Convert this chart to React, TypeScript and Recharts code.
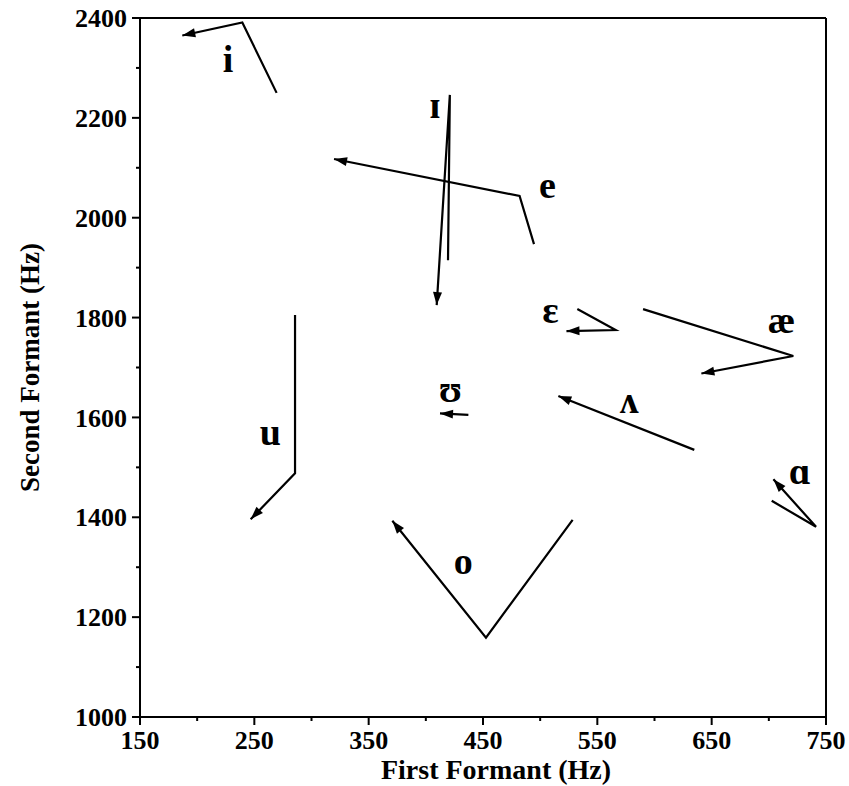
import React from 'react';
import { ScatterChart, Scatter, XAxis, YAxis, ReferenceLine } from 'recharts';

type Pt = { f1: number; f2: number };
type Lab = { f1: number; f2: number; text: string };

// Formant trajectories (F1, F2 in Hz), in drawing order; arrow at the last point
const vowelI: Pt[] = [
  { f1: 269.5, f2: 2250 },
  { f1: 239.5, f2: 2391 },
  { f1: 187, f2: 2365 },
];
const vowelSmallI: Pt[] = [
  { f1: 419.4, f2: 1915 },
  { f1: 421, f2: 2246 },
  { f1: 409.5, f2: 1825 },
];
const vowelE: Pt[] = [
  { f1: 494.6, f2: 1947 },
  { f1: 482, f2: 2043.5 },
  { f1: 319.7, f2: 2117.6 },
];
const vowelEpsilon: Pt[] = [
  { f1: 532.5, f2: 1817 },
  { f1: 566, f2: 1775 },
  { f1: 523, f2: 1773 },
];
const vowelAe: Pt[] = [
  { f1: 590, f2: 1817 },
  { f1: 721.4, f2: 1723 },
  { f1: 641, f2: 1688 },
];
const vowelU: Pt[] = [
  { f1: 285.6, f2: 1805 },
  { f1: 285.6, f2: 1488 },
  { f1: 246.8, f2: 1396 },
];
const vowelUpsilon: Pt[] = [
  { f1: 437.2, f2: 1605 },
  { f1: 412.4, f2: 1608 },
];
const vowelWedge: Pt[] = [
  { f1: 634.8, f2: 1535 },
  { f1: 515.9, f2: 1643 },
];
const vowelAlpha: Pt[] = [
  { f1: 702.5, f2: 1433 },
  { f1: 741.3, f2: 1381 },
  { f1: 704, f2: 1476 },
];
const vowelO: Pt[] = [
  { f1: 528.4, f2: 1395 },
  { f1: 452.6, f2: 1159 },
  { f1: 370.7, f2: 1393 },
];

const trajectories: Pt[][] = [
  vowelI,
  vowelSmallI,
  vowelE,
  vowelEpsilon,
  vowelAe,
  vowelU,
  vowelUpsilon,
  vowelWedge,
  vowelAlpha,
  vowelO,
];

// Vowel symbols (text baseline position)
const vowelLabels: Lab[] = [
  { f1: 227, f2: 2292, text: 'i' },
  { f1: 408, f2: 2200, text: 'ɪ' },
  { f1: 506.4, f2: 2039.5, text: 'e' },
  { f1: 509, f2: 1789, text: 'ɛ' },
  { f1: 711, f2: 1769, text: 'æ' },
  { f1: 264, f2: 1545, text: 'u' },
  { f1: 421.6, f2: 1631, text: 'ʊ' },
  { f1: 578, f2: 1609, text: 'ʌ' },
  { f1: 727, f2: 1466.7, text: 'ɑ' },
  { f1: 432.8, f2: 1286.5, text: 'o' },
];

const xTicks = [150, 200, 250, 300, 350, 400, 450, 500, 550, 600, 650, 700, 750];
const xMajor = [150, 250, 350, 450, 550, 650, 750];
const yTicks = [1000, 1100, 1200, 1300, 1400, 1500, 1600, 1700, 1800, 1900, 2000, 2100, 2200, 2300, 2400];
const yMajor = [1000, 1200, 1400, 1600, 1800, 2000, 2200, 2400];

const FONT = '"Liberation Serif", "DejaVu Serif", "Times New Roman", serif';

const ArrowPath = (props: any) => {
  const pts = (props.points || []) as { x: number; y: number }[];
  if (pts.length < 2) return <g />;
  const d = pts.map((p, i) => `${i ? 'L' : 'M'}${p.x},${p.y}`).join(' ');
  const a = pts[pts.length - 2];
  const b = pts[pts.length - 1];
  const dx = b.x - a.x;
  const dy = b.y - a.y;
  const len = Math.hypot(dx, dy) || 1;
  const ux = dx / len;
  const uy = dy / len;
  const L = 13;
  const W = 4.5;
  const bx = b.x - ux * L;
  const by = b.y - uy * L;
  const poly = `${b.x},${b.y} ${bx - uy * W},${by + ux * W} ${bx + uy * W},${by - ux * W}`;
  return (
    <g>
      <path d={d} fill="none" stroke="#000" strokeWidth={2.2} strokeLinejoin="miter" />
      <polygon points={poly} fill="#000" />
    </g>
  );
};

const XTick = (props: any) => {
  const { x, y, payload } = props;
  const major = xMajor.includes(payload.value);
  return (
    <g>
      <line x1={x} y1={y} x2={x} y2={y + (major ? 8 : 4)} stroke="#000" strokeWidth={2} />
      {major && (
        <text x={x} y={y + 32} textAnchor="middle" fontFamily={FONT} fontWeight="bold" fontSize={26} fill="#000">
          {payload.value}
        </text>
      )}
    </g>
  );
};

const YTick = (props: any) => {
  const { x, y, payload } = props;
  const major = yMajor.includes(payload.value);
  return (
    <g>
      <line x1={x} y1={y} x2={x - (major ? 8 : 4)} y2={y} stroke="#000" strokeWidth={2} />
      {major && (
        <text x={x - 13} y={y} dy="0.35em" textAnchor="end" fontFamily={FONT} fontWeight="bold" fontSize={26} fill="#000">
          {payload.value}
        </text>
      )}
    </g>
  );
};

const LabelShape = (props: any) => (
  <text
    x={props.cx}
    y={props.cy}
    textAnchor="middle"
    fontFamily={FONT}
    fontWeight="bold"
    fontSize={38}
    fill="#000"
  >
    {props.payload.text}
  </text>
);

const XTitle = (props: any) => {
  const vb = props.viewBox || { x: 0, y: 0, width: 0, height: 0 };
  return (
    <text x={vb.x + vb.width / 2 + 13} y={vb.y + 62} textAnchor="middle" fontFamily={FONT} fontWeight="bold" fontSize={28} fill="#000">
      First Formant (Hz)
    </text>
  );
};

const YTitle = (props: any) => {
  const vb = props.viewBox || { x: 0, y: 0, width: 0, height: 0 };
  const cx = 22;
  const cy = vb.y + vb.height / 2;
  return (
    <text
      x={cx}
      y={cy}
      dy="0.35em"
      transform={`rotate(-90 ${cx} ${cy})`}
      textAnchor="middle"
      fontFamily={FONT}
      fontWeight="bold"
      fontSize={27}
      fill="#000"
    >
      Second Formant (Hz)
    </text>
  );
};

export default function App() {
  return (
    <div style={{ position: 'absolute', left: 8, top: 0 }}>
      <ScatterChart width={841} height={786} margin={{ top: 18, right: 23, bottom: 0, left: 0 }}>
        <XAxis
          type="number"
          dataKey="f1"
          domain={[150, 750]}
          ticks={xTicks}
          interval={0}
          allowDataOverflow
          tickLine={false}
          tickSize={0}
          tickMargin={0}
          axisLine={{ stroke: '#000', strokeWidth: 2 }}
          tick={XTick}
          height={69}
          label={{ content: XTitle }}
        />
        <YAxis
          type="number"
          dataKey="f2"
          domain={[1000, 2400]}
          ticks={yTicks}
          interval={0}
          allowDataOverflow
          tickLine={false}
          tickSize={0}
          tickMargin={0}
          axisLine={{ stroke: '#000', strokeWidth: 2 }}
          tick={YTick}
          width={132}
          label={{ content: YTitle }}
        />
        <ReferenceLine y={2400} stroke="#000" strokeWidth={2} />
        <ReferenceLine x={750} stroke="#000" strokeWidth={2} />
        {trajectories.map((t, i) => (
          <Scatter
            key={i}
            data={t}
            fill="#000"
            line={ArrowPath}
            shape={() => <g />}
            isAnimationActive={false}
          />
        ))}
        <Scatter data={vowelLabels} shape={LabelShape} isAnimationActive={false} />
      </ScatterChart>
    </div>
  );
}
